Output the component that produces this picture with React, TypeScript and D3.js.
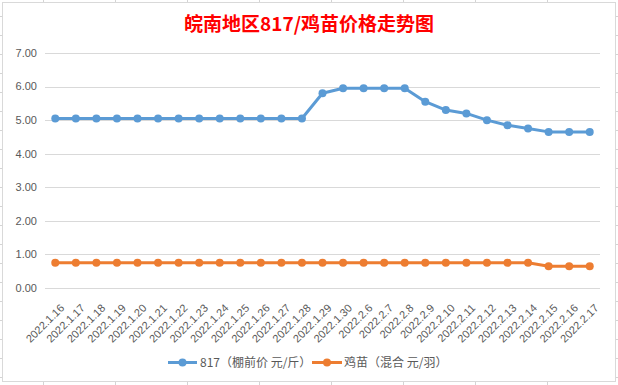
import React from "react";
import * as d3 from "d3";

const categories = [
  "2022.1.16", "2022.1.17", "2022.1.18", "2022.1.19", "2022.1.20", "2022.1.21",
  "2022.1.22", "2022.1.23", "2022.1.24", "2022.1.25", "2022.1.26", "2022.1.27",
  "2022.1.28", "2022.1.29", "2022.1.30", "2022.2.6", "2022.2.7", "2022.2.8",
  "2022.2.9", "2022.2.10", "2022.2.11", "2022.2.12", "2022.2.13", "2022.2.14",
  "2022.2.15", "2022.2.16", "2022.2.17",
];
const series817 = [
  5.05, 5.05, 5.05, 5.05, 5.05, 5.05, 5.05, 5.05, 5.05, 5.05, 5.05, 5.05,
  5.05, 5.8, 5.95, 5.95, 5.95, 5.95, 5.55, 5.3, 5.2, 5.0, 4.85, 4.75,
  4.65, 4.65, 4.65,
];
const seriesChick = [
  0.75, 0.75, 0.75, 0.75, 0.75, 0.75, 0.75, 0.75, 0.75, 0.75, 0.75, 0.75,
  0.75, 0.75, 0.75, 0.75, 0.75, 0.75, 0.75, 0.75, 0.75, 0.75, 0.75, 0.75,
  0.65, 0.65, 0.65,
];
const yTicks = [0, 1, 2, 3, 4, 5, 6, 7];
const seriesNames = ["817（棚前价 元/斤）", "鸡苗（混合 元/羽）"];
const title = "皖南地区817/鸡苗价格走势图";

const W = 618;
const H = 385;
const BLUE = "#5B9BD5";
const ORANGE = "#ED7D31";
const FONT = "'Liberation Sans', Arial, sans-serif";
const CJK = "'Noto Sans CJK SC', 'Liberation Sans', sans-serif";

export default function App() {
  const x = d3.scaleBand<string>().domain(categories).range([45, 600]);
  const y = d3.scaleLinear().domain([0, 7]).range([288, 53]);
  const cx = (c: string) => (x(c) as number) + x.bandwidth() / 2;

  const line = d3
    .line<number>()
    .x((_, i) => cx(categories[i]))
    .y((d) => y(d));

  const colLines = d3.range(43, W, 72);
  const rowLines = d3.range(16, H, 19);

  const series = [
    { name: seriesNames[0], values: series817, color: BLUE },
    { name: seriesNames[1], values: seriesChick, color: ORANGE },
  ];

  const legend = [
    { x0: 168, x1: 197, tx: 200, color: BLUE, name: seriesNames[0] },
    { x0: 312, x1: 342, tx: 344, color: ORANGE, name: seriesNames[1] },
  ];

  return (
    <div style={{ position: "fixed", left: 0, top: 0, width: W, height: H }}>
      <svg width={W} height={H} style={{ display: "block" }}>
        <rect x={0} y={0} width={W} height={H} fill="#ffffff" />
        {colLines.map((c) => (
          <line key={"c" + c} x1={c + 0.5} x2={c + 0.5} y1={0} y2={H} stroke="#d4d4d4" />
        ))}
        {rowLines.map((r) => (
          <line key={"r" + r} x1={0} x2={W} y1={r + 0.5} y2={r + 0.5} stroke="#d4d4d4" />
        ))}
        <rect x={2.5} y={2.5} width={613} height={379} fill="#ffffff" stroke="#d9d9d9" />

        <text
          x={309}
          y={31}
          textAnchor="middle"
          fill="#FF0000"
          fontWeight="bold"
          fontSize={19}
          fontFamily={CJK}
        >
          {title}
        </text>

        {yTicks.map((t) => (
          <g key={t}>
            <line x1={45} x2={600} y1={Math.round(y(t)) + 0.5} y2={Math.round(y(t)) + 0.5} stroke="#d9d9d9" />
            <text
              x={37}
              y={y(t)}
              dy="0.35em"
              textAnchor="end"
              fontSize={11}
              fill="#595959"
              fontFamily={FONT}
            >
              {t.toFixed(2)}
            </text>
          </g>
        ))}

        {categories.map((c) => (
          <text
            key={c}
            transform={`translate(${cx(c) + 7},306) rotate(-45)`}
            dy="0.35em"
            textAnchor="end"
            fontSize={11}
            fill="#595959"
            fontFamily={FONT}
          >
            {c}
          </text>
        ))}

        {series.map((s) => (
          <g key={s.name}>
            <path d={line(s.values) || ""} fill="none" stroke={s.color} strokeWidth={3} strokeLinejoin="round" />
            {s.values.map((v, i) => (
              <circle key={i} cx={cx(categories[i])} cy={y(v)} r={4} fill={s.color} />
            ))}
          </g>
        ))}

        {legend.map((l) => (
          <g key={l.name}>
            <line x1={l.x0} x2={l.x1} y1={362.5} y2={362.5} stroke={l.color} strokeWidth={3} />
            <circle cx={(l.x0 + l.x1) / 2} cy={362.5} r={4} fill={l.color} />
            <text x={l.tx} y={362.5} dy="0.35em" fontSize={12} fill="#595959" fontFamily={CJK}>
              {l.name}
            </text>
          </g>
        ))}
      </svg>
    </div>
  );
}
